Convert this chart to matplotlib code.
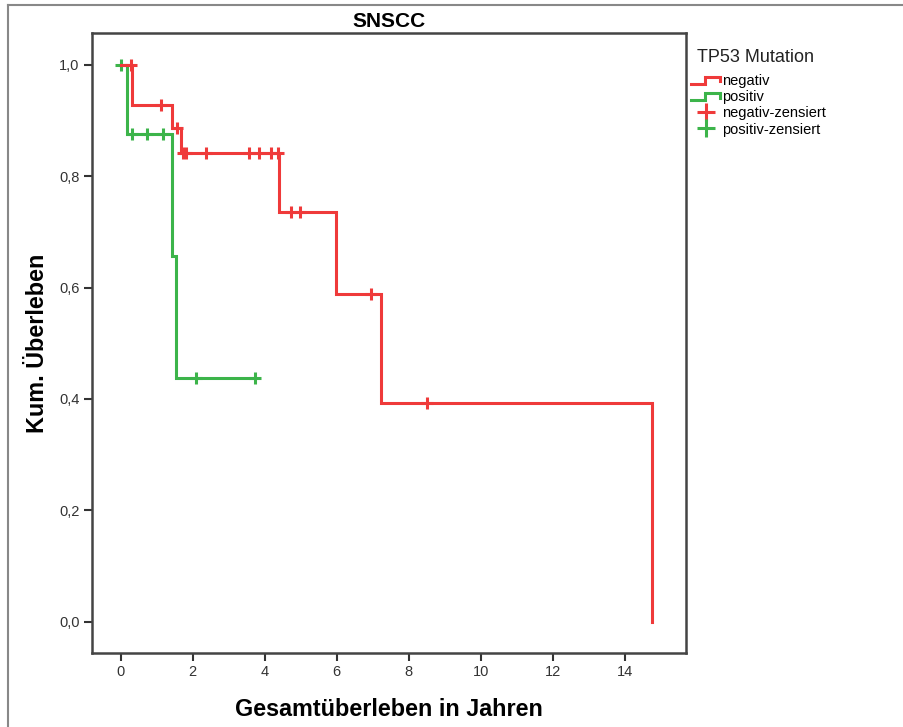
import matplotlib
matplotlib.use("Agg")
import matplotlib.pyplot as plt
from matplotlib.lines import Line2D
from matplotlib.legend_handler import HandlerBase

plt.rcParams['font.family'] = ['Liberation Sans', 'DejaVu Sans']

# Kaplan-Meier step data (time in years, cumulative survival)
neg_times = [0.0, 0.32, 1.43, 1.66, 4.40, 5.97, 7.24, 14.75]
neg_surv = [1.0, 0.928, 0.886, 0.841, 0.735, 0.589, 0.392, 0.0]
neg_cens_t = [0.27, 1.13, 1.56, 1.72, 1.82, 2.36, 3.56, 3.83, 4.16, 4.37, 4.72, 4.97, 6.94, 8.51]
neg_cens_s = [1.0, 0.928, 0.886, 0.841, 0.841, 0.841, 0.841, 0.841, 0.841, 0.841, 0.735, 0.735, 0.589, 0.392]

pos_times = [0.0, 0.18, 1.43, 1.54]
pos_surv = [1.0, 0.875, 0.656, 0.437]
pos_end = 3.74
pos_cens_t = [0.0, 0.31, 0.74, 1.18, 2.08, 3.74]
pos_cens_s = [1.0, 0.875, 0.875, 0.875, 0.437, 0.437]

xticks = [0, 2, 4, 6, 8, 10, 12, 14]
yticks = [0.0, 0.2, 0.4, 0.6, 0.8, 1.0]
ytick_labels = ['0,0', '0,2', '0,4', '0,6', '0,8', '1,0']

RED = '#ef3a3a'
GREEN = '#3cb44a'

W, H = 904, 727
fig = plt.figure(figsize=(W / 100, H / 100), dpi=100)
ax = fig.add_axes([92 / W, 1 - 653 / H, (686 - 92) / W, (653 - 33) / H])


def step_xy(times, surv, end=None):
    xs, ys = [], []
    for i, (t, s) in enumerate(zip(times, surv)):
        if i > 0:
            xs.append(t)
            ys.append(surv[i - 1])
        xs.append(t)
        ys.append(s)
    if end is not None:
        xs.append(end)
        ys.append(surv[-1])
    return xs, ys


px, py = step_xy(pos_times, pos_surv, pos_end)
nx, ny = step_xy(neg_times, neg_surv)
ax.plot(px, py, color=GREEN, lw=2.2, solid_joinstyle='miter')
ax.plot(pos_cens_t, pos_cens_s, ls='none', marker='+', ms=9, mew=2.2, color=GREEN)
ax.plot(nx, ny, color=RED, lw=2.2, solid_joinstyle='miter')
ax.plot(neg_cens_t, neg_cens_s, ls='none', marker='+', ms=9, mew=2.2, color=RED)

ax.set_xlim(-0.8, 15.7)
ax.set_ylim(-0.056, 1.057)
ax.set_xticks(xticks)
ax.set_xticklabels([str(v) for v in xticks])
ax.set_yticks(yticks)
ax.set_yticklabels(ytick_labels)
ax.tick_params(direction='out', length=6, width=1.5, color='#333333',
               labelsize=10.5, labelcolor='#333333', pad=3)
for sp in ax.spines.values():
    sp.set_linewidth(1.8)
    sp.set_color('#444444')

ax.set_title('SNSCC', fontsize=15, fontweight='bold', pad=4)
ax.set_xlabel('Gesamtüberleben in Jahren', fontsize=16.8, fontweight='bold', labelpad=13)
ax.set_ylabel('Kum. Überleben', fontsize=16.8, fontweight='bold', labelpad=7)


class StepHandler(HandlerBase):
    def create_artists(self, legend, orig_handle, xdescent, ydescent,
                       width, height, fontsize, trans):
        x0, x1 = -xdescent, -xdescent + width
        y0, y1 = -ydescent + 0.1 * height, -ydescent + 0.8 * height
        xm = x0 + 0.45 * width
        ln = Line2D([x0, xm, xm, x1 - 1, x1 - 1], [y0, y0, y1, y1, y0 + 0.25 * height],
                    color=orig_handle.get_color(), lw=2.2, solid_joinstyle='miter',
                    transform=trans)
        return [ln]


h_neg = Line2D([], [], color=RED, lw=2.2)
h_pos = Line2D([], [], color=GREEN, lw=2.2)
h_negc = Line2D([], [], color=RED, ls='none', marker='+', ms=13, mew=2.2)
h_posc = Line2D([], [], color=GREEN, ls='none', marker='+', ms=13, mew=2.2)
fig.text(697 / W, 1 - 57 / H, 'TP53 Mutation', fontsize=13, va='center', ha='left',
         color='#222222')
leg = fig.legend([h_neg, h_pos, h_negc, h_posc],
                 ['negativ', 'positiv', 'negativ-zensiert', 'positiv-zensiert'],
                 handler_map={h_neg: StepHandler(), h_pos: StepHandler()},
                 loc='upper left', bbox_to_anchor=(691 / W, 1 - 74 / H),
                 frameon=False, fontsize=10.5, handlelength=2.1, handletextpad=0.05,
                 labelspacing=0.15, borderaxespad=0, borderpad=0)

# outer figure border (top and left)
fig.add_artist(Line2D([8 / W, 8 / W], [0, 1 - 5 / H], transform=fig.transFigure,
                      color='#888888', lw=1.5))
fig.add_artist(Line2D([8 / W, 1], [1 - 5 / H, 1 - 5 / H], transform=fig.transFigure,
                      color='#888888', lw=1.5))

fig.savefig('out.png', dpi=100)
